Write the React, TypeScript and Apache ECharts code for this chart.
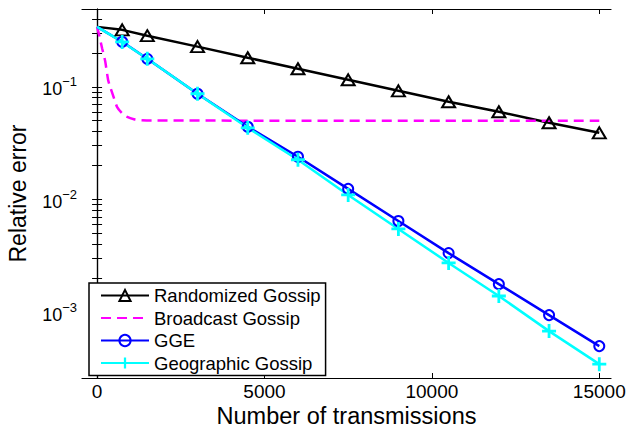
import React, { useEffect, useRef } from "react";
import * as echarts from "echarts";

// ---- data ----
const xPoints = [0, 750, 1500, 3000, 4500, 6000, 7500, 9000, 10500, 12000, 13500, 15000];
const randomizedGossip = [0.34, 0.32, 0.284, 0.227, 0.181, 0.1445, 0.1153, 0.092, 0.0736, 0.06, 0.0479, 0.039];
const ggeValues = [0.34, 0.251, 0.177, 0.0867, 0.0441, 0.0239, 0.0124, 0.00644, 0.00334, 0.00177, 0.00094, 0.000499];
const geographicGossip = [0.34, 0.25, 0.177, 0.0867, 0.0432, 0.0225, 0.01096, 0.00547, 0.00273, 0.00139, 0.000678, 0.000345];
const broadcastX = [0, 60, 150, 240, 330, 400, 500, 600, 750, 900, 1100, 1300, 1600, 15000];
const broadcastY = [0.34, 0.29, 0.22, 0.17, 0.115, 0.098, 0.08, 0.066, 0.058, 0.054, 0.0515, 0.0506, 0.0501, 0.05];

const seriesNames = ["Randomized Gossip", "Broadcast Gossip", "GGE", "Geographic Gossip"];
const xTickValues = [0, 5000, 10000, 15000];
const yLabelValues = [0.001, 0.01, 0.1];
const yTickValues = [
  0.0003, 0.0004, 0.0005, 0.0006, 0.0007, 0.0008, 0.0009,
  0.001, 0.002, 0.003, 0.004, 0.005, 0.006, 0.007, 0.008, 0.009,
  0.01, 0.02, 0.03, 0.04, 0.05, 0.06, 0.07, 0.08, 0.09,
  0.1, 0.2, 0.3, 0.4,
];
const xMin = -450;
const xMax = 15350;
const yMin = 0.00026;
const yMax = 0.49;

const FONT = "Liberation Sans";
const PLUS = "path://M4.8,0H7.2V4.8H12V7.2H7.2V12H4.8V7.2H0V4.8H4.8Z";

function markerData(xs: number[], ys: number[]) {
  return xs.map((x, i) => (i === 0 ? { value: [x, ys[i]], symbol: "none" } : { value: [x, ys[i]] }));
}

export default function App() {
  const ref = useRef<HTMLDivElement>(null);
  useEffect(() => {
    if (!ref.current) return;
    const chart = echarts.init(ref.current, null, { renderer: "svg" });
    const axisLine = { show: true, lineStyle: { color: "#000", width: 1.2 } };
    const xTick = { show: true, inside: true, length: 5, customValues: xTickValues, lineStyle: { color: "#000", width: 1 } };
    const yTick = { show: true, inside: true, length: 5, customValues: yTickValues, lineStyle: { color: "#000", width: 1 } };
    chart.setOption({
      animation: false,
      backgroundColor: "#fff",
      grid: { left: 82, right: 17, top: 9, bottom: 52, containLabel: false, outerBoundsMode: "none" },
      legend: {
        orient: "vertical",
        left: 89,
        top: 283,
        padding: [3, 5, 3, 11],
        itemWidth: 48,
        itemHeight: 14,
        itemGap: 3.5,
        borderColor: "#000",
        borderWidth: 1.5,
        backgroundColor: "#fff",
        data: seriesNames,
        textStyle: { fontSize: 18.5, color: "#000", fontFamily: FONT, lineHeight: 18 },
      },
      xAxis: [
        {
          type: "value",
          min: xMin,
          max: xMax,
          position: "bottom",
          name: "Number of transmissions",
          nameLocation: "middle",
          nameGap: 26,
          nameMoveOverlap: false,
          nameTextStyle: { fontSize: 23.5, lineHeight: 23, color: "#000", fontFamily: FONT, verticalAlign: "top" },
          axisLine,
          axisTick: xTick,
          splitLine: { show: false },
          axisLabel: {
            customValues: xTickValues,
            formatter: (v: number) => String(v),
            fontSize: 19,
            lineHeight: 19,
            color: "#000",
            fontFamily: FONT,
            margin: 4,
          },
        },
        {
          type: "value",
          min: xMin,
          max: xMax,
          position: "top",
          axisLine,
          axisTick: xTick,
          splitLine: { show: false },
          axisLabel: { show: false },
        },
      ],
      yAxis: [
        {
          type: "log",
          logBase: 10,
          min: yMin,
          max: yMax,
          position: "left",
          name: "Relative error",
          nameLocation: "middle",
          nameGap: 53,
          nameMoveOverlap: false,
          nameTextStyle: { fontSize: 23, color: "#000", fontFamily: FONT },
          axisLine,
          axisTick: yTick,
          minorTick: { show: false },
          splitLine: { show: false },
          axisLabel: {
            customValues: yLabelValues,
            margin: 5,
            formatter: (v: number) => {
              const e = Math.round(Math.log10(v));
              return `{b|10}{s|${e < 0 ? "\u2212" : ""}${Math.abs(e)}}`;
            },
            rich: {
              b: { fontSize: 18, color: "#000", fontFamily: FONT, verticalAlign: "bottom" },
              s: { fontSize: 13, color: "#000", fontFamily: FONT, verticalAlign: "bottom", padding: [0, 0, 10, 0] },
            },
          },
        },
        {
          type: "log",
          logBase: 10,
          min: yMin,
          max: yMax,
          position: "right",
          axisLine,
          axisTick: yTick,
          splitLine: { show: false },
          axisLabel: { show: false },
        },
      ],
      series: [
        {
          name: seriesNames[0],
          type: "line",
          data: markerData(xPoints, randomizedGossip),
          symbol: "triangle",
          symbolSize: [13, 11],
          lineStyle: { color: "#000", width: 2.5 },
          itemStyle: { color: "rgba(0,0,0,0)", borderColor: "#000", borderWidth: 2 },
        },
        {
          name: seriesNames[1],
          type: "line",
          data: broadcastX.map((x, i) => [x, broadcastY[i]]),
          symbol: "none",
          smooth: 0.2,
          lineStyle: { color: "#ff00ff", width: 2.5, type: [10, 6] },
          itemStyle: { color: "rgba(0,0,0,0)", borderWidth: 0 },
        },
        {
          name: seriesNames[2],
          type: "line",
          data: markerData(xPoints, ggeValues),
          symbol: "circle",
          symbolSize: 10,
          lineStyle: { color: "#0000ff", width: 2.5 },
          itemStyle: { color: "rgba(0,0,0,0)", borderColor: "#0000ff", borderWidth: 2 },
        },
        {
          name: seriesNames[3],
          type: "line",
          data: markerData(xPoints, geographicGossip),
          symbol: PLUS,
          symbolSize: 14,
          lineStyle: { color: "#00ffff", width: 2.5 },
          itemStyle: { color: "#00ffff" },
        },
      ],
    });
    return () => chart.dispose();
  }, []);
  return <div ref={ref} style={{ position: "fixed", left: 0, top: 0, width: 628, height: 430 }} />;
}
